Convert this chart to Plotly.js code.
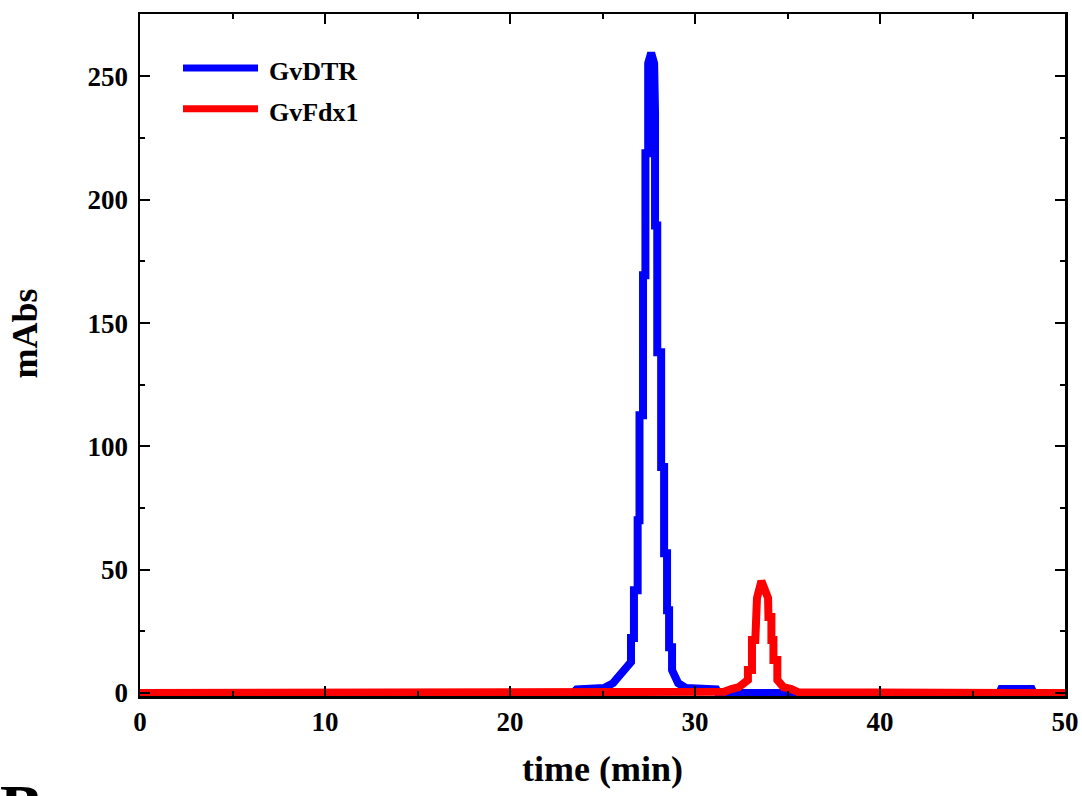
<!DOCTYPE html>
<html>
<head>
<meta charset="utf-8">
<script src="https://cdn.plot.ly/plotly-3.0.1.min.js"></script>
<style>html,body{margin:0;padding:0;background:#fff;}#chart{width:1082px;height:796px;}</style>
</head>
<body>
<div id="chart"></div>
<script>
// GvDTR elution trace (time in min, absorbance in mAbs)
const gvdtrTime = [0, 23.4, 23.6, 25.08, 25.57, 26.06, 26.54, 26.54, 26.70, 26.70, 26.90, 26.90, 27.00, 27.00, 27.19, 27.19, 27.32, 27.32, 27.47, 27.47, 27.63, 27.79, 27.84, 27.84, 27.96, 27.96, 28.17, 28.17, 28.33, 28.33, 28.49, 28.49, 28.60, 28.60, 28.76, 28.76, 29.09, 29.52, 31.15, 31.25, 46.45, 46.55, 48.2, 48.3, 50];
const gvdtrAbs  = [0, 0, 1.5, 2, 4, 8.1, 12.6, 22.3, 22.3, 41.7, 41.7, 70.1, 70.1, 112.6, 112.6, 169.4, 169.4, 218.8, 218.8, 255.3, 259.5, 255.3, 235, 189.6, 189.6, 138.2, 138.2, 91.6, 91.6, 56.7, 56.7, 33.6, 33.6, 18.6, 18.6, 9.3, 4, 2, 1.5, 0, 0, 1.6, 1.6, 0, 0];

// GvFdx1 elution trace
const gvfdxTime = [0, 31.2, 31.58, 31.96, 32.37, 32.86, 32.86, 33.08, 33.08, 33.26, 33.26, 33.35, 33.35, 33.59, 33.95, 33.97, 34.13, 34.13, 34.24, 34.24, 34.45, 34.45, 34.78, 35.21, 35.6, 50];
const gvfdxAbs  = [0, 0, 0.5, 1.6, 2.4, 5.3, 9.3, 9.3, 21.5, 21.5, 30.8, 30.8, 38.5, 45.4, 38.5, 30.8, 30.8, 21.5, 21.5, 13.4, 13.4, 5.3, 2.4, 1.6, 0.3, 0];

const seriesNames = ["GvDTR", "GvFdx1"];
const seriesColors = ["#0000ff", "#ff0000"];

const xTicks = [0, 10, 20, 30, 40, 50];
const yTicks = [0, 50, 100, 150, 200, 250];

const serif = "Liberation Serif, Times New Roman, serif";

const traces = [
  {x: gvdtrTime, y: gvdtrAbs, type: "scatter", mode: "lines", name: seriesNames[0],
   line: {color: seriesColors[0], width: 8, shape: "linear"}},
  {x: gvfdxTime, y: gvfdxAbs, type: "scatter", mode: "lines", name: seriesNames[1],
   line: {color: seriesColors[1], width: 8, shape: "linear"}}
];

const axisCommon = {
  showgrid: false, zeroline: false, showline: true, linecolor: "#000", linewidth: 2.5,
  mirror: "ticks", ticks: "inside", ticklen: 10, tickwidth: 2, tickcolor: "#000",
  tickfont: {family: serif, size: 27, color: "#000", weight: "bold"},
};

const layout = {
  width: 1082, height: 796,
  margin: {l: 140, r: 17, t: 14, b: 100},
  paper_bgcolor: "#fff", plot_bgcolor: "#fff",
  showlegend: false,
  xaxis: Object.assign({}, axisCommon, {
    range: [0, 50], tickvals: xTicks, ticktext: xTicks.map(String),
    minor: {dtick: 5, tick0: 0, ticks: "inside", ticklen: 5, tickwidth: 2, tickcolor: "#000"},
    title: {text: "time (min)", font: {family: serif, size: 36, color: "#000", weight: "bold"}, standoff: 20}
  }),
  yaxis: Object.assign({}, axisCommon, {
    range: [-1.2, 275.3], tickvals: yTicks, ticktext: yTicks.map(String),
    ticklabelstandoff: 4,
    minor: {dtick: 25, tick0: 0, ticks: "inside", ticklen: 5, tickwidth: 2, tickcolor: "#000"}
  }),
  shapes: seriesColors.map((c, i) => ({
    type: "line", xref: "paper", yref: "paper",
    x0: 0.0465, x1: 0.1276, y0: 0.921 - 0.06 * i, y1: 0.921 - 0.06 * i,
    line: {color: c, width: 7}
  })),
  annotations: seriesNames.map((n, i) => ({
    xref: "paper", yref: "paper", x: 0.137, y: 0.915 - 0.06 * i,
    xanchor: "left", yanchor: "middle", showarrow: false, text: n,
    font: {family: serif, size: 26, color: "#000", weight: "bold"}
  })).concat([{
    // y-axis title
    xref: "paper", yref: "paper", x: -0.124, y: 0.532, xanchor: "center", yanchor: "middle",
    textangle: -90, showarrow: false, text: "mAbs",
    font: {family: serif, size: 36, color: "#000", weight: "bold"}
  }, {
    // panel letter (partly off the page, as in the original)
    xref: "paper", yref: "paper", x: -0.153, y: -0.108, xanchor: "left", yanchor: "top",
    showarrow: false, text: "B", font: {family: serif, size: 64, color: "#000", weight: "bold"}
  }])
};

Plotly.newPlot("chart", traces, layout, {displayModeBar: false, staticPlot: true});
</script>
</body>
</html>
